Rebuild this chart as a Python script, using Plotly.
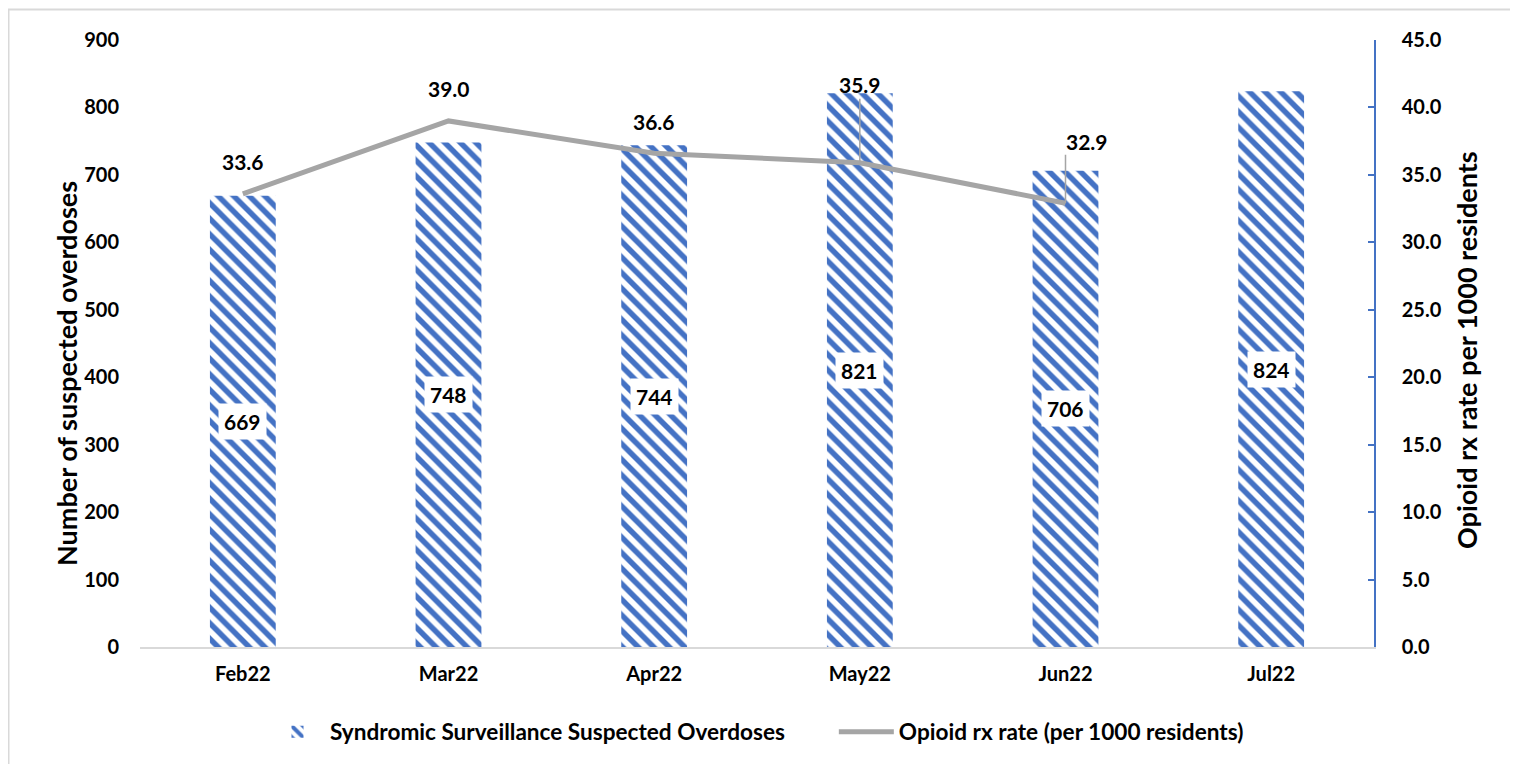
import plotly.graph_objects as go

months = ["Feb22", "Mar22", "Apr22", "May22", "Jun22", "Jul22"]
overdoses = [669, 748, 744, 821, 706, 824]
rx_rate = [33.6, 39.0, 36.6, 35.9, 32.9, None]
left_ticks = [0, 100, 200, 300, 400, 500, 600, 700, 800, 900]
right_ticks = [0, 5, 10, 15, 20, 25, 30, 35, 40, 45]
left_title = "Number of suspected overdoses"
right_title = "Opioid rx rate per 1000 residents"

FONT = "Lato"
BLUE = "#4472C4"
GRAY = "#A5A5A5"
tick_f = dict(family=FONT, size=20, color="black", weight="bold")
lab_f = dict(family=FONT, size=21, color="black", weight="bold")
leg_f = dict(family=FONT, size=22.6, color="black", weight="bold")
title_f = dict(family=FONT, size=27, color="black", weight="bold")

# plot-area geometry (figure pixels)
L, R, T, B = 132, 152, 32, 125
PW, PH = 1518 - L - R, 764 - T - B


def px_x(x):
    return (x - L) / PW


def px_y(y):
    return (T + PH - y) / PH


fig = go.Figure()
fig.add_trace(go.Bar(
    x=months, y=overdoses,
    name="Syndromic Surveillance Suspected Overdoses" + "\u00a0" * 8,
    marker=dict(color="white", line=dict(width=0),
                pattern=dict(shape="\\", fgcolor=BLUE, bgcolor="white", fgopacity=1,
                             size=11, solidity=0.5, fillmode="replace")),
    yaxis="y",
))
fig.add_trace(go.Scatter(
    x=months, y=rx_rate, name="Opioid rx rate (per 1000 residents)",
    mode="lines", line=dict(color=GRAY, width=5), yaxis="y2",
    connectgaps=False,
))

ann = []
# bar value labels (white boxes at bar middle)
for m, v in zip(months, overdoses):
    ann.append(dict(x=m, y=v / 2, xref="x", yref="y", text=str(v), showarrow=False,
                    bgcolor="white", borderpad=5, font=lab_f))

# line labels
for m, v in zip(months, rx_rate):
    if v is None:
        continue
    if m == "May22":
        ann.append(dict(x=m, y=v, xref="x", yref="y2", text=f"{v:.1f}", showarrow=True,
                        arrowhead=0, arrowwidth=1.5, arrowcolor=GRAY, ax=0, ay=-78,
                        standoff=0, font=lab_f))
    elif m == "Jun22":
        ann.append(dict(x=m, y=v, xref="x", yref="y2", text="", showarrow=True,
                        arrowhead=0, arrowwidth=1.5, arrowcolor=GRAY, ax=0, ay=-50,
                        standoff=0, font=lab_f))
        ann.append(dict(x=m, y=v, xref="x", yref="y2", text=f"{v:.1f}", showarrow=False,
                        xshift=21, yshift=62, font=lab_f))
    else:
        ann.append(dict(x=m, y=v, xref="x", yref="y2", text=f"{v:.1f}", showarrow=False,
                        yshift=32, font=lab_f))

# axis titles
ann.append(dict(x=px_x(59), y=px_y(366), xref="paper", yref="paper", text=left_title,
                textangle=-90, showarrow=False, font=title_f,
                xanchor="center", yanchor="middle"))
ann.append(dict(x=px_x(1459), y=px_y(342), xref="paper", yref="paper", text=right_title,
                textangle=-90, showarrow=False, font=title_f,
                xanchor="center", yanchor="middle"))

fig.update_layout(
    width=1518, height=764,
    margin=dict(l=L, r=R, t=T, b=B, autoexpand=False),
    paper_bgcolor="white", plot_bgcolor="white",
    font=dict(family=FONT, size=18, color="black"),
    bargap=0.68,
    showlegend=True,
    legend=dict(orientation="h", x=0.5, xanchor="center", y=-0.14, yanchor="middle",
                font=leg_f, itemwidth=55, traceorder="normal"),
    xaxis=dict(showgrid=False, showline=True, linecolor="#D9D9D9", linewidth=2,
               ticks="", tickfont=tick_f, ticklabelstandoff=8, automargin=False),
    yaxis=dict(range=[0, 900], tickvals=left_ticks, showgrid=False, showline=False,
               zeroline=False, ticks="", tickfont=tick_f, ticklabelstandoff=20,
               automargin=False),
    yaxis2=dict(range=[0, 45], tickvals=right_ticks, tickformat=".1f", overlaying="y",
                side="right", showgrid=False, showline=True, linecolor=BLUE, linewidth=1.5,
                ticks="inside", ticklen=6, tickcolor=BLUE, tickwidth=1.5, zeroline=False,
                tickfont=tick_f, ticklabelstandoff=22, automargin=False),
    annotations=ann,
    shapes=[dict(type="rect", xref="paper", yref="paper",
                 x0=px_x(0.5), x1=px_x(1506.5),
                 y0=px_y(790), y1=px_y(1.5),
                 line=dict(color="#D9D9D9", width=2), fillcolor="rgba(0,0,0,0)",
                 layer="below")],
)

fig.write_html("out.html")
